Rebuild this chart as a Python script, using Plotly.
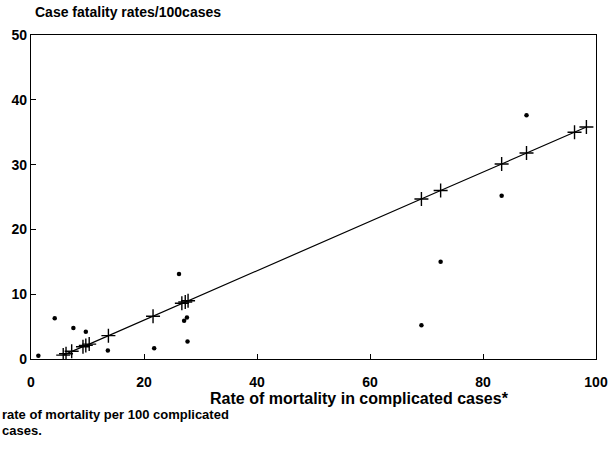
import plotly.graph_objects as go

# Fitted values (crosses on regression line)
fit_x = [5.7, 6.2, 7.2, 9.2, 9.7, 10.3, 13.7, 21.6, 26.7, 27.3, 27.8, 69.1, 72.5, 83.3, 87.7, 96.2, 98.3]
fit_y = [0.6, 0.8, 1.2, 1.9, 2.1, 2.3, 3.6, 6.6, 8.6, 8.8, 9.0, 24.7, 26.0, 30.1, 31.8, 35.0, 35.8]

# Observed values (dots)
obs_x = [1.3, 4.2, 7.5, 9.7, 13.6, 21.8, 26.2, 27.1, 27.6, 27.7, 69.1, 72.5, 83.3, 87.7]
obs_y = [0.5, 6.3, 4.8, 4.2, 1.3, 1.65, 13.1, 5.9, 6.4, 2.7, 5.2, 15.0, 25.2, 37.6]

x_ticks = [0, 20, 40, 60, 80, 100]
y_ticks = [0, 10, 20, 30, 40, 50]

title_top = "Case fatality rates/100cases"
x_title = "Rate of mortality in complicated cases*"
foot1 = "rate of mortality per 100 complicated"
foot2 = "cases."

FONT = "Liberation Sans, Arial, sans-serif"

fig = go.Figure()
fig.add_trace(go.Scatter(
    x=fit_x, y=fit_y, mode="lines+markers",
    line=dict(color="black", width=1.2),
    marker=dict(symbol="cross-thin", size=10, line=dict(color="black", width=1.4), color="black"),
    showlegend=False, hoverinfo="skip"))
fig.add_trace(go.Scatter(
    x=obs_x, y=obs_y, mode="markers",
    marker=dict(symbol="circle", size=4.5, color="black"),
    showlegend=False, hoverinfo="skip"))

axis_common = dict(
    showline=True, linecolor="black", linewidth=1.3, mirror=True,
    ticks="inside", ticklen=5, tickwidth=1.2, tickcolor="black",
    showgrid=False, zeroline=False, automargin=False,
    tickfont=dict(family=FONT, size=14, color="black", weight="bold"),
)

fig.update_xaxes(range=[0, 100], tickvals=x_ticks, ticktext=[str(v) for v in x_ticks],
                 ticklabelstandoff=10, **axis_common)
fig.update_yaxes(range=[0, 50], tickvals=y_ticks, ticktext=[str(v) for v in y_ticks], **axis_common)

PW, PH = 565, 324
fig.add_annotation(text=title_top, xref="paper", yref="paper", x=(33 - 31) / PW, y=1 + (35 - 12) / PH,
                   xanchor="left", yanchor="middle", showarrow=False,
                   font=dict(family=FONT, size=14, color="black", weight="bold"))
fig.add_annotation(text=x_title, xref="paper", yref="paper", x=(359 - 31) / PW, y=-(398 - 359) / PH,
                   xanchor="center", yanchor="middle", showarrow=False,
                   font=dict(family=FONT, size=16, color="black", weight="bold"))
fig.add_annotation(text=foot1, xref="paper", yref="paper", x=(0 - 31) / PW, y=-(415 - 359) / PH,
                   xanchor="left", yanchor="middle", showarrow=False,
                   font=dict(family=FONT, size=13, color="black", weight="bold"))
fig.add_annotation(text=foot2, xref="paper", yref="paper", x=(0 - 31) / PW, y=-(430 - 359) / PH,
                   xanchor="left", yanchor="middle", showarrow=False,
                   font=dict(family=FONT, size=13, color="black", weight="bold"))

fig.update_layout(
    width=613, height=452,
    margin=dict(l=31, r=17, t=35, b=93),
    paper_bgcolor="white", plot_bgcolor="white",
    font=dict(family=FONT, color="black"),
)

fig.write_html("out.html", config={"displayModeBar": False})

with open("out.html", "r", encoding="utf-8") as f:
    html = f.read()
html = html.replace("<body>", '<body style="margin:0;padding:0;">', 1)
with open("out.html", "w", encoding="utf-8") as f:
    f.write(html)
